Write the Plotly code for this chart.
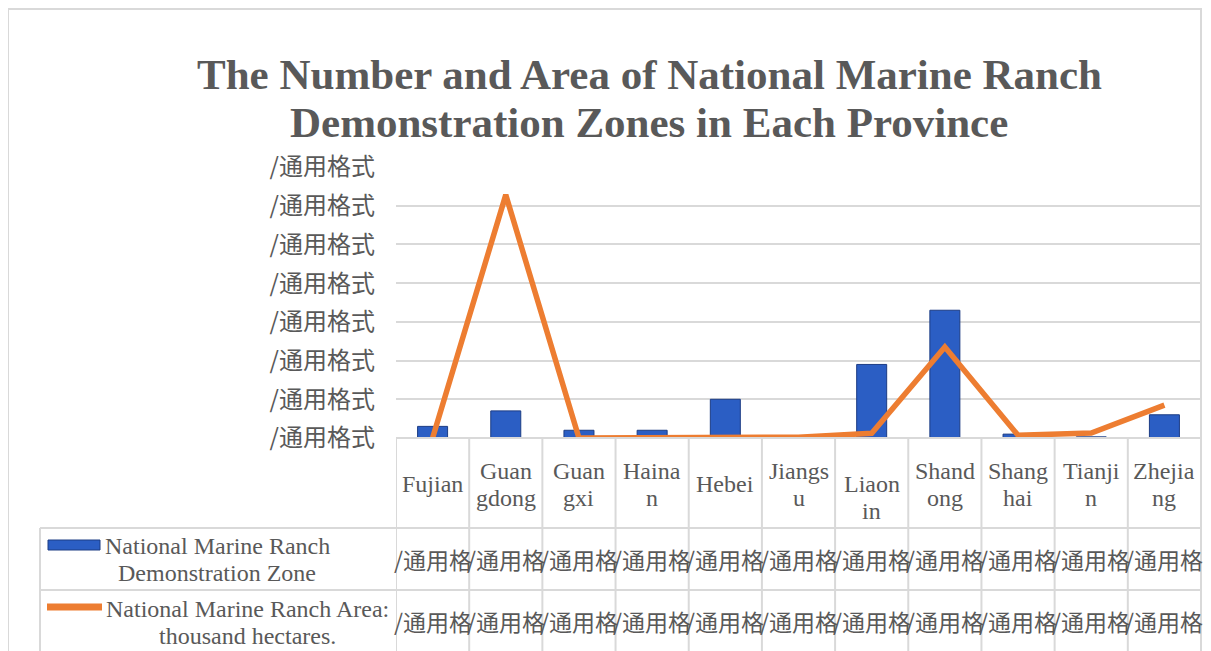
import plotly.graph_objects as go

provinces = ["Fujian", "Guangdong", "Guangxi", "Hainan", "Hebei", "Jiangsu",
             "Liaoning", "Shandong", "Shanghai", "Tianjin", "Zhejiang"]
# header text as wrapped in the data table (Liaoning sits one line lower)
header_lines = [["Fujian"], ["Guan", "gdong"], ["Guan", "gxi"], ["Haina", "n"],
                ["Hebei"], ["Jiangs", "u"], ["", "Liaon", "in"], ["Shand", "ong"],
                ["Shang", "hai"], ["Tianji", "n"], ["Zhejia", "ng"]]
zones = [3, 7, 2, 2, 10, 0, 19, 33, 1, 0.3, 6]
area = [0, 62.8, 0, 0, 0, 0.2, 1.2, 23.5, 0.7, 1.3, 8.5]
y_ticks = [0, 10, 20, 30, 40, 50, 60, 70]
y_tick_text = ["/通用格式"] * len(y_ticks)
cell_text = "/通用格"
zone_name = ["National Marine Ranch", "Demonstration Zone"]
area_name = ["National Marine Ranch Area:", "thousand hectares."]
title_lines = ["The Number and Area of National Marine Ranch",
               "Demonstration Zones in Each Province"]

# page coordinates below are screen pixels; the page body adds an 8px offset
OFF = 8
W, H = 1211 - OFF, 651 - OFF
L, R, T, B = 396, 1201, 167, 438
GREY = "#595959"
GRID = "#d9d9d9"
BLUE = "#2b5ec4"
ORANGE = "#ed7d31"
SERIF = "Liberation Serif, Times New Roman, serif"
CJK = "Noto Sans CJK SC, sans-serif"


def px(x):
    return (x - L) / (R - L)


def py(y):
    return (B - y) / (B - T)


fig = go.Figure()

fig.add_trace(go.Bar(
    x=provinces, y=zones, width=0.41,
    marker=dict(color=BLUE, line=dict(color="#1c3c84", width=1)),
    name=" ".join(zone_name)
))
fig.add_trace(go.Scatter(
    x=provinces, y=area, mode="lines",
    line=dict(color=ORANGE, width=5.5),
    name=" ".join(area_name)
))

shapes = []
# outer chart border
shapes.append(dict(type="rect", xref="paper", yref="paper",
                   x0=px(8), x1=px(1201), y0=py(700), y1=py(9),
                   line=dict(color=GRID, width=2), layer="below"))
# data table rows
shapes.append(dict(type="line", xref="paper", yref="paper",
                   x0=px(396), x1=px(1201), y0=py(438), y1=py(438),
                   line=dict(color=GRID, width=2)))
for yy in [528, 590]:
    shapes.append(dict(type="line", xref="paper", yref="paper",
                       x0=px(40), x1=px(1201), y0=py(yy), y1=py(yy),
                       line=dict(color=GRID, width=2)))
shapes.append(dict(type="line", xref="paper", yref="paper",
                   x0=px(40), x1=px(40), y0=py(528), y1=py(700),
                   line=dict(color=GRID, width=2)))
# data table columns
for i in range(len(provinces) + 1):
    shapes.append(dict(type="line", xref="x", yref="paper",
                       x0=i - 0.5, x1=i - 0.5, y0=py(438), y1=py(700),
                       line=dict(color=GRID, width=2)))
# legend keys
shapes.append(dict(type="rect", xref="paper", yref="paper",
                   x0=px(48), x1=px(100), y0=py(550), y1=py(540),
                   fillcolor=BLUE, line=dict(color="#1c3c84", width=1)))
shapes.append(dict(type="line", xref="paper", yref="paper",
                   x0=px(47), x1=px(102), y0=py(607), y1=py(607),
                   line=dict(color=ORANGE, width=7)))

ann = []
for k, t in enumerate(title_lines):
    ann.append(dict(text="<b>%s</b>" % t, xref="paper", yref="paper",
                    x=px(649), y=py(75 + 47 * k), showarrow=False,
                    xanchor="center", yanchor="middle",
                    font=dict(family=SERIF, size=43, color=GREY)))

for name, lines in zip(provinces, header_lines):
    n = len(lines)
    for j, t in enumerate(lines):
        yy = 484 + (j - (n - 1) / 2) * 27
        ann.append(dict(text=t, xref="x", yref="paper", x=name, y=py(yy),
                        showarrow=False, xanchor="center", yanchor="middle",
                        font=dict(family=SERIF, size=24, color=GREY)))
    for yy in [559, 621]:
        ann.append(dict(text=cell_text, xref="x", yref="paper", x=name, y=py(yy),
                        showarrow=False, xanchor="center", yanchor="middle",
                        font=dict(family=CJK, size=23, color=GREY)))

for lines, cx, y0 in [(zone_name, 217, 546), (area_name, 247, 609)]:
    for j, t in enumerate(lines):
        ann.append(dict(text=t, xref="paper", yref="paper",
                        x=px(cx), y=py(y0 + 27 * j), showarrow=False,
                        xanchor="center", yanchor="middle",
                        font=dict(family=SERIF, size=24, color=GREY)))

fig.update_layout(
    width=W, height=H,
    margin=dict(l=L - OFF, r=W - (R - OFF), t=T - OFF, b=H - (B - OFF)),
    paper_bgcolor="white", plot_bgcolor="white",
    showlegend=False,
    shapes=shapes,
    annotations=ann,
    xaxis=dict(range=[-0.5, len(provinces) - 0.5], showticklabels=False,
               showgrid=False, zeroline=False, showline=False, fixedrange=True),
    yaxis=dict(range=[0, 70], tickvals=y_ticks, ticktext=y_tick_text,
               showgrid=True, gridcolor=GRID, gridwidth=2, zeroline=False,
               ticklabelstandoff=20,
               tickfont=dict(family=CJK, size=24, color=GREY)),
)

fig.write_html("out.html")
